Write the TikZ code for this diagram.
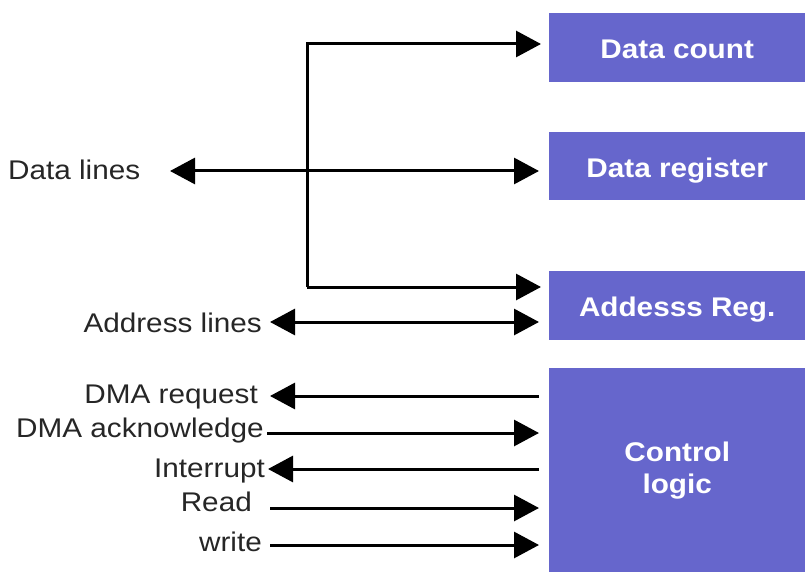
\documentclass[tikz,border=0pt]{standalone}
\usepackage{fontspec}
\setmainfont{Liberation Sans}[FakeStretch=1.1]
\usetikzlibrary{arrows.meta}
\definecolor{boxblue}{HTML}{6666CC}
\begin{document}
\begin{tikzpicture}[x=1pt,y=-1pt,
  blk/.style={fill=boxblue, draw=none, text=white, font=\fontsize{27}{32}\selectfont\bfseries, align=center, inner sep=0pt, minimum width=256pt, anchor=north west},
  blk1/.style={blk, text height=22pt, text depth=0pt},
  lbl/.style={font=\fontsize{27}{32}\selectfont, inner sep=0pt, text=black!85},
  wire/.style={line width=3pt, draw=black},
  tipR/.style={-{Triangle[length=25pt,width=26pt]}},
  tipB/.style={{Triangle[length=25pt,width=26pt]}-{Triangle[length=25pt,width=26pt]}}
]
\useasboundingbox (0,0) rectangle (805,572);

% blocks
\node[blk1, minimum height=69pt] (dc) at (549,13) {Data count};
\node[blk1, minimum height=68pt] (dr) at (549,132) {Data register};
\node[blk1, minimum height=69pt] (ar) at (549,271) {Addesss Reg.};
\node[blk, minimum height=204pt] (cl) at (549,368) {Control\\logic};

% labels
\node[lbl, anchor=base west] (dl) at (8,179) {Data lines};
\node[lbl, anchor=base east] (al) at (262,332) {Address lines};
\node[lbl, anchor=base east] (req) at (258,403) {DMA request};
\node[lbl, anchor=base east] (ack) at (264,437) {DMA acknowledge};
\node[lbl, anchor=base east] (irq) at (265,477) {Interrupt};
\node[lbl, anchor=base east] (rd) at (252,511) {Read};
\node[lbl, anchor=base east] (wr) at (262,551) {write};

% connector end points
\coordinate (busTop) at (307,44);
\coordinate (busBot) at (307,287);
\coordinate (dcIn) at (541,44);
\coordinate (arIn1) at (541,287);
\coordinate (dlL) at (170,171);
\coordinate (drIn) at (539,171);
\coordinate (alL) at (270,322);
\coordinate (arIn2) at (539,322);
\coordinate (reqL) at (270,396);
\coordinate (reqR) at (539,396);
\coordinate (ackL) at (267,433);
\coordinate (ackR) at (539,433);
\coordinate (irqL) at (268,469);
\coordinate (irqR) at (539,469);
\coordinate (rdL) at (270,508);
\coordinate (rdR) at (539,508);
\coordinate (wrL) at (270,545);
\coordinate (wrR) at (539,545);

% connectors
\draw[wire, tipR] (busBot) -- (busTop) -- (dcIn);
\draw[wire, tipR] (busBot) -- (arIn1);
\draw[wire, tipB] (dlL) -- (drIn);
\draw[wire, tipB] (alL) -- (arIn2);
\draw[wire, tipR] (reqR) -- (reqL);
\draw[wire, tipR] (ackL) -- (ackR);
\draw[wire, tipR] (irqR) -- (irqL);
\draw[wire, tipR] (rdL) -- (rdR);
\draw[wire, tipR] (wrL) -- (wrR);
\end{tikzpicture}
\end{document}
